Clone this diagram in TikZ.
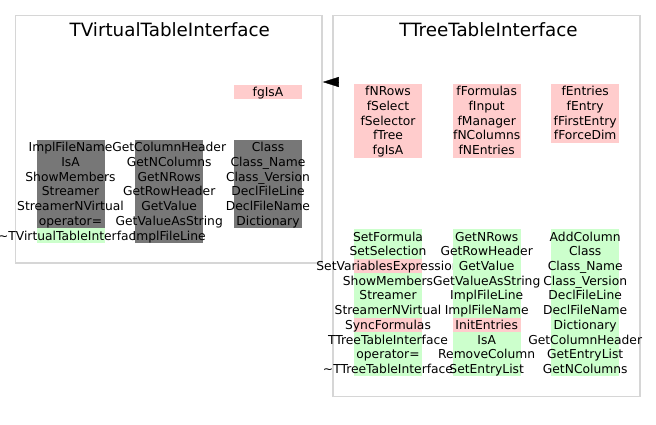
\documentclass[tikz,border=0pt]{standalone}
\usepackage{fontspec}
\setmainfont{DejaVu Sans}
\usetikzlibrary{arrows.meta,positioning,calc}
\definecolor{memgray}{HTML}{777777}
\definecolor{mempink}{HTML}{FFCCCC}
\definecolor{memgreen}{HTML}{CCFFCC}
\definecolor{framegray}{HTML}{D6D6D6}
\tikzset{
  gy/.style={fill=memgray}, pk/.style={fill=mempink}, gn/.style={fill=memgreen},
  mem/.style={inner sep=0pt,text height=9pt,text depth=0pt,font=\fontsize{12.3}{14.7}\selectfont},
  frame/.style={draw=framegray,line width=1.5pt,inner sep=0pt},
  title/.style={inner sep=0pt,text height=13pt,text depth=0pt,font=\fontsize{18.3}{22}\selectfont},
  inherit/.style={-{Triangle[length=16pt,width=10pt]},black}
}
% one column of members: name, x, y of first row, list text/style
\newcommand\memcol[4]{\foreach \t/\c [count=\k from 0] in {#4}{
  \fill[\c] (#2-34,#3+\k*14.7-7.35) rectangle ++(68,14.7);
  \node[mem] (#1\k) at (#2,#3+\k*14.7) {\t};}}
\begin{document}
\begin{tikzpicture}[x=1pt,y=-1pt]
\useasboundingbox (0,0) rectangle (656,424);
\node[frame,minimum width=306.5pt,minimum height=247.5pt] (tvti) at (168.75,139.25) {};
\node[frame,minimum width=307pt,minimum height=381pt] (ttti) at (486.5,206) {};
\node[title,below=8.5pt of tvti.north,xshift=1pt] (tvtit) {TVirtualTableInterface};
\node[title,below=8.5pt of ttti.north,xshift=2pt] (tttit) {TTreeTableInterface};
\coordinate (inh) at (0,82);
\draw[inherit] (ttti.west |- inh) -- (tvti.east |- inh);
% TVirtualTableInterface
\memcol{vd}{268}{92}{fgIsA/pk}
\memcol{va}{70.5}{147.35}{ImplFileName/gy,IsA/gy,ShowMembers/gy,Streamer/gy,StreamerNVirtual/gy,operator=/gy,\textasciitilde TVirtualTableInterface/gn}
\memcol{vb}{169.2}{147.35}{GetColumnHeader/gy,GetNColumns/gy,GetNRows/gy,GetRowHeader/gy,GetValue/gy,GetValueAsString/gy,ImplFileLine/gy}
\memcol{vc}{268}{147.35}{Class/gy,Class\_Name/gy,Class\_Version/gy,DeclFileLine/gy,DeclFileName/gy,Dictionary/gy}
% TTreeTableInterface
\memcol{da}{388}{91.35}{fNRows/pk,fSelect/pk,fSelector/pk,fTree/pk,fgIsA/pk}
\memcol{db}{486.7}{91.35}{fFormulas/pk,fInput/pk,fManager/pk,fNColumns/pk,fNEntries/pk}
\memcol{dc}{585.2}{91.35}{fEntries/pk,fEntry/pk,fFirstEntry/pk,fForceDim/pk}
\memcol{ma}{388}{236.65}{SetFormula/gn,SetSelection/gn,SetVariablesExpression/pk,ShowMembers/gn,Streamer/gn,StreamerNVirtual/gn,SyncFormulas/pk,TTreeTableInterface/gn,operator=/gn,\textasciitilde TTreeTableInterface/gn}
\memcol{mb}{486.7}{236.65}{GetNRows/gn,GetRowHeader/gn,GetValue/gn,GetValueAsString/gn,ImplFileLine/gn,ImplFileName/gn,InitEntries/pk,IsA/gn,RemoveColumn/gn,SetEntryList/gn}
\memcol{mc}{585.2}{236.65}{AddColumn/gn,Class/gn,Class\_Name/gn,Class\_Version/gn,DeclFileLine/gn,DeclFileName/gn,Dictionary/gn,GetColumnHeader/gn,GetEntryList/gn,GetNColumns/gn}
\end{tikzpicture}
\end{document}
